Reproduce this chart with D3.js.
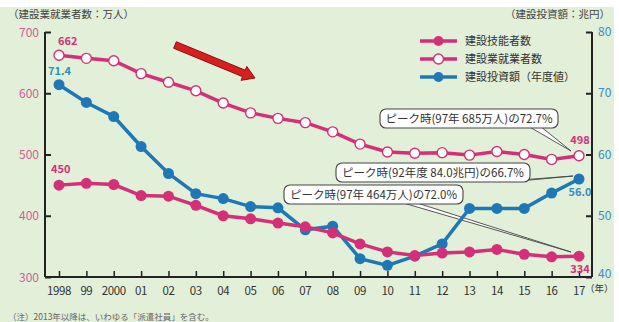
<!DOCTYPE html>
<html>
<head>
<meta charset="utf-8">
<script src="https://cdn.jsdelivr.net/npm/d3@7"></script>
<style>
  html, body { margin: 0; padding: 0; background: #ffffff; }
  svg { display: block; }
  text { font-family: "Noto Sans CJK JP", "Liberation Sans", sans-serif; }
</style>
</head>
<body>
<svg id="chart" width="619" height="322"></svg>
<script>
// Years on the x axis
const years = [1998,1999,2000,2001,2002,2003,2004,2005,2006,2007,2008,2009,2010,2011,2012,2013,2014,2015,2016,2017];
const yearLabels = ["1998","99","2000","01","02","03","04","05","06","07","08","09","10","11","12","13","14","15","16","17"];

// 建設業就業者数（万人）
const employed = [662,657,653,632,618,604,584,568,559,552,537,517,504,502,503,499,505,500,492,498];
// 建設技能者数（万人）
const skilled = [450,453,451,433,432,417,400,395,388,382,372,354,341,335,339,341,345,337,333,334];
// 建設投資額（兆円・年度値）
const investment = [71.4,68.5,66.2,61.3,56.9,53.6,52.8,51.5,51.3,47.7,48.3,43.0,41.9,43.4,45.4,51.2,51.2,51.2,53.7,56.0];

const leftTicks = [300,400,500,600,700];
const rightTicks = [40,50,60,70,80];

const pink = "#d42f78";
const blue = "#1f78b6";
const ink = "#222";

const svg = d3.select("#chart");

// background panel
svg.append("rect").attr("x", 0).attr("y", 7).attr("width", 614).attr("height", 315).attr("fill", "#e2efd9");

const x = d3.scalePoint().domain(years).range([59, 579]);
const yL = d3.scaleLinear().domain([300, 700]).range([277, 32]);
const yR = d3.scaleLinear().domain([40, 80]).range([277, 32]);

// left axis
const gL = svg.append("g").attr("transform", "translate(45,0)")
  .call(d3.axisRight(yL).tickValues(leftTicks).tickSize(6).tickFormat(""));
gL.select(".domain").remove();
gL.selectAll(".tick line").attr("stroke", ink).attr("stroke-width", 2);
svg.append("line").attr("x1", 45).attr("x2", 45).attr("y1", yL(700)).attr("y2", yL(300))
  .attr("stroke", ink).attr("stroke-width", 2);
svg.selectAll(".ltl").data(leftTicks).join("text")
  .attr("x", 39).attr("y", d => yL(d) + 4.5).attr("text-anchor", "end")
  .attr("font-size", 12).attr("fill", "#d65a95").text(d => d);

// right axis
const gR = svg.append("g").attr("transform", "translate(592,0)")
  .call(d3.axisLeft(yR).tickValues(rightTicks).tickSize(6).tickFormat(""));
gR.select(".domain").remove();
gR.selectAll(".tick line").attr("stroke", ink).attr("stroke-width", 2);
svg.append("line").attr("x1", 592).attr("x2", 592).attr("y1", yR(80)).attr("y2", yR(40))
  .attr("stroke", ink).attr("stroke-width", 2);
svg.selectAll(".rtl").data(rightTicks).join("text")
  .attr("x", 598).attr("y", d => yR(d) + (d === 40 ? 1 : 4)).attr("text-anchor", "start")
  .attr("font-size", 12).attr("fill", "#3a8cc6").text(d => d);

// x axis
const gX = svg.append("g").attr("transform", "translate(0,277)")
  .call(d3.axisTop(x).tickSize(6).tickFormat(""));
gX.select(".domain").remove();
gX.selectAll(".tick line").attr("stroke", ink).attr("stroke-width", 1.5);
svg.append("line").attr("x1", 45).attr("x2", 592).attr("y1", 277).attr("y2", 277)
  .attr("stroke", ink).attr("stroke-width", 2);
svg.selectAll(".xtl").data(years).join("text")
  .attr("x", d => x(d)).attr("y", 295).attr("text-anchor", "middle")
  .attr("font-size", 11.5).attr("letter-spacing", -0.4).attr("fill", "#333")
  .text((d, i) => yearLabels[i]);
svg.append("text").attr("x", 585).attr("y", 292).attr("font-size", 9.5).attr("fill", "#333").text("（年）");

// axis titles
svg.append("text").attr("x", 8).attr("y", 18).attr("font-size", 10.5).attr("fill", "#444").text("（建設業就業者数：万人）");
svg.append("text").attr("x", 610).attr("y", 18).attr("text-anchor", "end").attr("font-size", 10.5).attr("fill", "#444").text("（建設投資額：兆円）");

// note
svg.append("text").attr("x", 8).attr("y", 320).attr("font-size", 8.5).attr("fill", "#666").text("（注）2013年以降は、いわゆる「派遣社員」を含む。");

// trend arrow
const arrow = d3.path();
{
  const x0 = 175, y0 = 45, x1 = 255, y1 = 78;
  const ang = Math.atan2(y1 - y0, x1 - x0);
  const ux = Math.cos(ang), uy = Math.sin(ang), nx = -uy, ny = ux;
  const hw = 3.5, hh = 7.5, hl = 12;
  const bx = x1 - ux * hl, by = y1 - uy * hl;
  arrow.moveTo(x0 + nx * hw, y0 + ny * hw);
  arrow.lineTo(bx + nx * hw, by + ny * hw);
  arrow.lineTo(bx + nx * hh, by + ny * hh);
  arrow.lineTo(x1, y1);
  arrow.lineTo(bx - nx * hh, by - ny * hh);
  arrow.lineTo(bx - nx * hw, by - ny * hw);
  arrow.lineTo(x0 - nx * hw, y0 - ny * hw);
  arrow.closePath();
}
svg.append("path").attr("d", arrow.toString()).attr("fill", "#d81e1e").attr("stroke", "#8a1010").attr("stroke-width", 1);

// callouts
const callouts = [
  { text: "ピーク時(97年 685万人)の72.7%", bx: 380, by: 109, bw: 178, bh: 19, base: [528, 540], tip: [571, 151] },
  { text: "ピーク時(92年度 84.0兆円)の66.7%", bx: 336, by: 163, bw: 194, bh: 19, base: [520, 530], tip: [573, 176] },
  { text: "ピーク時(97年 464万人)の72.0%", bx: 284, by: 185, bw: 179, bh: 19, base: [400, 414], tip: [571, 252] }
];
callouts.forEach(c => {
  const yb = c.by + c.bh;
  svg.append("path")
    .attr("d", `M${c.base[0]},${yb - 2}L${c.tip[0]},${c.tip[1]}L${c.base[1]},${yb - 2}Z`)
    .attr("fill", "#fff").attr("stroke", "#444").attr("stroke-width", 0.9);
  svg.append("rect").attr("x", c.bx).attr("y", c.by).attr("width", c.bw).attr("height", c.bh)
    .attr("rx", 6).attr("fill", "#fff").attr("stroke", "#444").attr("stroke-width", 1.1);
  svg.append("text").attr("x", c.bx + c.bw / 2).attr("y", c.by + 14).attr("text-anchor", "middle")
    .attr("font-size", 11.5).attr("fill", "#333").text(c.text);
});

// series lines
const lineL = d3.line().x((d, i) => x(years[i])).y(d => yL(d));
const lineR = d3.line().x((d, i) => x(years[i])).y(d => yR(d));

svg.append("path").datum(investment).attr("d", lineR).attr("fill", "none")
  .attr("stroke", blue).attr("stroke-width", 3.5);
svg.selectAll(".inv").data(investment).join("circle")
  .attr("cx", (d, i) => x(years[i])).attr("cy", d => yR(d)).attr("r", 5.5).attr("fill", blue);

svg.append("path").datum(skilled).attr("d", lineL).attr("fill", "none")
  .attr("stroke", pink).attr("stroke-width", 3.5);
svg.selectAll(".sk").data(skilled).join("circle")
  .attr("cx", (d, i) => x(years[i])).attr("cy", d => yL(d)).attr("r", 5.5).attr("fill", pink);

svg.append("path").datum(employed).attr("d", lineL).attr("fill", "none")
  .attr("stroke", pink).attr("stroke-width", 3.5);
svg.selectAll(".em").data(employed).join("circle")
  .attr("cx", (d, i) => x(years[i])).attr("cy", d => yL(d)).attr("r", 5)
  .attr("fill", "#fff").attr("stroke", pink).attr("stroke-width", 1.4);

// value labels
const last = years.length - 1;
const valueLabels = [
  { t: employed[0], x: x(years[0]) - 1, y: yL(employed[0]) - 10, c: pink, a: "start" },
  { t: investment[0].toFixed(1), x: x(years[0]) - 11, y: yR(investment[0]) - 10, c: "#2f8fb8", a: "start" },
  { t: skilled[0], x: x(years[0]) - 8, y: yL(skilled[0]) - 12, c: pink, a: "start" },
  { t: employed[last], x: x(years[last]) + 1, y: yL(employed[last]) - 12, c: pink, a: "middle" },
  { t: investment[last].toFixed(1), x: x(years[last]) + 1, y: yR(investment[last]) + 17, c: "#3a8cc6", a: "middle" },
  { t: skilled[last], x: x(years[last]) + 1, y: yL(skilled[last]) + 17, c: pink, a: "middle" }
];
svg.selectAll(".vl").data(valueLabels).join("text")
  .attr("x", d => d.x).attr("y", d => d.y).attr("text-anchor", d => d.a)
  .attr("font-size", 11).attr("font-weight", "bold").attr("fill", d => d.c).text(d => d.t);

// legend
const legend = [
  { name: "建設技能者数", color: pink, hollow: false },
  { name: "建設業就業者数", color: pink, hollow: true },
  { name: "建設投資額（年度値）", color: blue, hollow: false }
];
const lg = svg.append("g");
legend.forEach((d, i) => {
  const yy = 41 + i * 18;
  lg.append("line").attr("x1", 420).attr("x2", 457).attr("y1", yy).attr("y2", yy)
    .attr("stroke", d.color).attr("stroke-width", 3.5);
  lg.append("circle").attr("cx", 438.5).attr("cy", yy).attr("r", 5)
    .attr("fill", d.hollow ? "#fff" : d.color).attr("stroke", d.color).attr("stroke-width", d.hollow ? 1.4 : 0);
  lg.append("text").attr("x", 465).attr("y", yy + 4).attr("font-size", 11).attr("fill", "#333").text(d.name);
});
</script>
</body>
</html>
